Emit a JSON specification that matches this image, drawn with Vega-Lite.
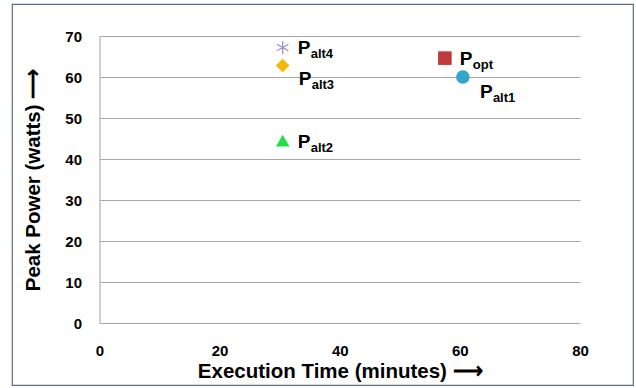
{
  "$schema": "https://vega.github.io/schema/vega-lite/v6.json",
  "width": 621,
  "height": 381,
  "autosize": {"type": "none"},
  "padding": {"left": 12, "top": 4, "right": 3, "bottom": 3},
  "background": "white",
  "config": {
    "view": {"stroke": "#5A6E8C", "strokeWidth": 1.2},
    "font": "Liberation Sans"
  },
  "data": {
    "values": [
      {"label": "Palt1", "sub": "alt1", "time": 60.5, "power": 60},
      {"label": "Palt2", "sub": "alt2", "time": 30.5, "power": 44.5},
      {"label": "Palt3", "sub": "alt3", "time": 30.5, "power": 62.8},
      {"label": "Palt4", "sub": "alt4", "time": 30.5, "power": 67.2},
      {"label": "Popt", "sub": "opt", "time": 57.5, "power": 64.6}
    ]
  },
  "encoding": {
    "x": {
      "field": "time", "type": "quantitative",
      "scale": {"domain": [0, 80], "range": [87.5, 568], "nice": false, "zero": false},
      "axis": {
        "orient": "bottom", "offset": -62, "domain": false, "ticks": false, "grid": false,
        "values": [0, 20, 40, 60, 80], "labelFlush": false,
        "labelPadding": 20, "labelFont": "Liberation Sans", "labelFontSize": 15, "labelFontWeight": "bold", "labelColor": "#000000",
        "title": "Execution Time (minutes) ⟶", "titleFont": "Liberation Sans", "titleFontSize": 20.5, "titleFontWeight": "bold", "titleColor": "#000000", "titlePadding": 3
      }
    },
    "y": {
      "field": "power", "type": "quantitative",
      "scale": {"domain": [0, 70], "range": [319, 32], "nice": false, "zero": false},
      "axis": {
        "orient": "left", "offset": -87.5, "domain": true, "domainColor": "#BFBFBF", "domainWidth": 1.5, "ticks": false,
        "grid": true, "gridColor": "#A6A6A6", "gridWidth": 1,
        "values": [0, 10, 20, 30, 40, 50, 60, 70],
        "labelPadding": 18, "labelFont": "Liberation Sans", "labelFontSize": 15, "labelFontWeight": "bold", "labelColor": "#000000",
        "title": "Peak Power (watts) ⟶", "titleFont": "Liberation Sans", "titleFontSize": 20.5, "titleFontWeight": "bold", "titleColor": "#000000", "titlePadding": 21
      }
    }
  },
  "layer": [
    {
      "transform": [{"filter": {"field": "sub", "oneOf": ["alt1", "alt2", "alt3", "opt"]}}],
      "mark": {"type": "point", "filled": true, "opacity": 1, "size": 185},
      "encoding": {
        "shape": {"field": "sub", "type": "nominal", "legend": null,
          "scale": {"domain": ["alt1", "alt2", "alt3", "opt"], "range": ["circle", "triangle-up", "diamond", "square"]}},
        "color": {"field": "sub", "type": "nominal", "legend": null,
          "scale": {"domain": ["alt1", "alt2", "alt3", "opt"], "range": ["#33A5C8", "#22E04A", "#F5B800", "#BF3A3C"]}}
      }
    },
    {
      "transform": [{"filter": {"field": "sub", "equal": "alt4"}}],
      "mark": {"type": "point", "filled": false, "size": 169, "stroke": "#9890C8", "strokeWidth": 1.3, "opacity": 1,
        "shape": "M0,-1L0,1M-0.87,-0.5L0.87,0.5M-0.87,0.5L0.87,-0.5"},
      "encoding": {}
    },
    {
      "transform": [{"filter": {"field": "sub", "oneOf": ["alt4", "alt2", "opt"]}}],
      "mark": {"type": "text", "text": "P", "align": "left", "baseline": "alphabetic", "dx": 15, "dy": 7,
        "font": "Liberation Sans", "fontSize": 19, "fontWeight": "bold", "color": "#000000"},
      "encoding": {}
    },
    {
      "transform": [{"filter": {"field": "sub", "oneOf": ["alt4", "alt2", "opt"]}}],
      "mark": {"type": "text", "align": "left", "baseline": "alphabetic", "dx": 28, "dy": 11,
        "font": "Liberation Sans", "fontSize": 13, "fontWeight": "bold", "color": "#000000"},
      "encoding": {"text": {"field": "sub"}}
    },
    {
      "transform": [{"filter": {"field": "sub", "equal": "alt3"}}],
      "mark": {"type": "text", "text": "P", "align": "left", "baseline": "alphabetic", "dx": 16, "dy": 19,
        "font": "Liberation Sans", "fontSize": 19, "fontWeight": "bold", "color": "#000000"},
      "encoding": {}
    },
    {
      "transform": [{"filter": {"field": "sub", "equal": "alt3"}}],
      "mark": {"type": "text", "align": "left", "baseline": "alphabetic", "dx": 29, "dy": 23,
        "font": "Liberation Sans", "fontSize": 13, "fontWeight": "bold", "color": "#000000"},
      "encoding": {"text": {"field": "sub"}}
    },
    {
      "transform": [{"filter": {"field": "sub", "equal": "alt1"}}],
      "mark": {"type": "text", "text": "P", "align": "left", "baseline": "alphabetic", "dx": 17, "dy": 21,
        "font": "Liberation Sans", "fontSize": 19, "fontWeight": "bold", "color": "#000000"},
      "encoding": {}
    },
    {
      "transform": [{"filter": {"field": "sub", "equal": "alt1"}}],
      "mark": {"type": "text", "align": "left", "baseline": "alphabetic", "dx": 30, "dy": 25,
        "font": "Liberation Sans", "fontSize": 13, "fontWeight": "bold", "color": "#000000"},
      "encoding": {"text": {"field": "sub"}}
    }
  ]
}
